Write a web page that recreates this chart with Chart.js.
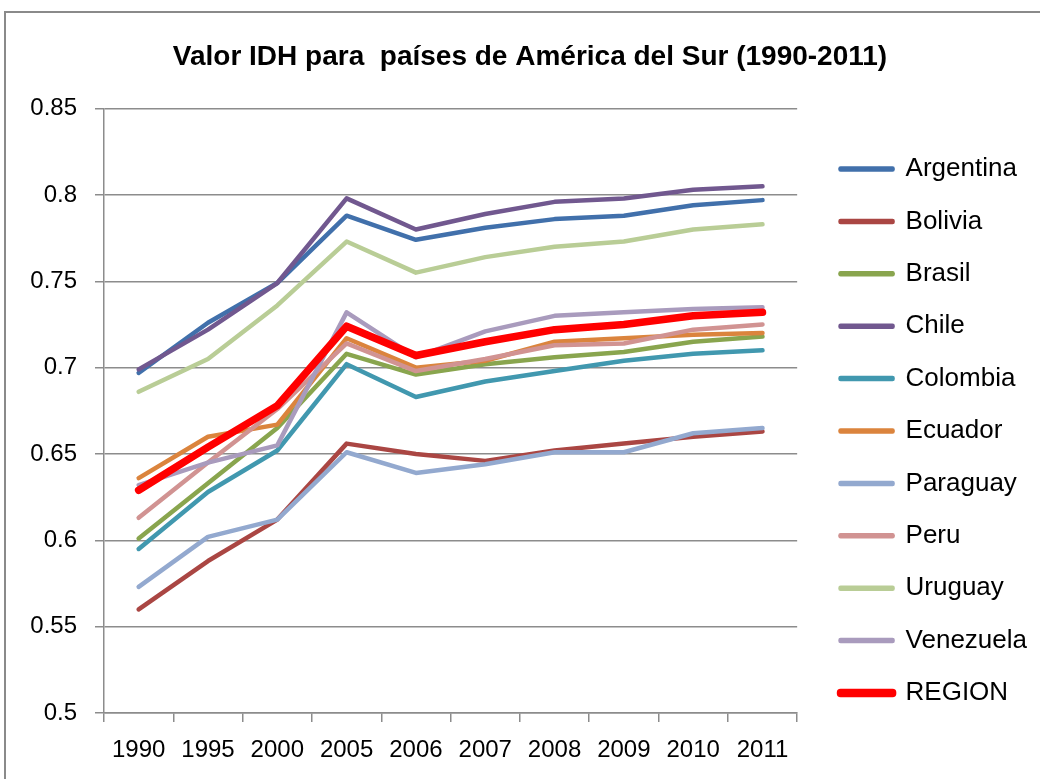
<!DOCTYPE html>
<html>
<head>
<meta charset="utf-8">
<script src="https://cdn.jsdelivr.net/npm/chart.js@4.4.1/dist/chart.umd.min.js"></script>
<style>
  html, body { margin: 0; padding: 0; background: #fff; overflow: hidden; }
  #frame { position: absolute; left: 4px; top: 11px; width: 1100px; height: 900px; border: 2px solid #8a8a8a; }
  #wrap { position: absolute; left: 0; top: 0; width: 1040px; height: 779px; }
</style>
</head>
<body>
<div id="frame"></div>
<div id="wrap"><canvas id="idh" width="1040" height="779"></canvas></div>
<script>
// years on the x axis
const years = ['1990', '1995', '2000', '2005', '2006', '2007', '2008', '2009', '2010', '2011'];

// IDH values
const argentina = [0.697, 0.726, 0.749, 0.788, 0.774, 0.781, 0.786, 0.788, 0.794, 0.797];
const bolivia   = [0.560, 0.588, 0.612, 0.656, 0.650, 0.646, 0.652, 0.656, 0.660, 0.663];
const brasil    = [0.601, 0.633, 0.665, 0.708, 0.696, 0.702, 0.706, 0.709, 0.715, 0.718];
const chile     = [0.699, 0.722, 0.749, 0.798, 0.780, 0.789, 0.796, 0.798, 0.803, 0.805];
const colombia  = [0.595, 0.628, 0.652, 0.702, 0.683, 0.692, 0.698, 0.704, 0.708, 0.710];
const ecuador   = [0.636, 0.660, 0.667, 0.717, 0.700, 0.704, 0.715, 0.717, 0.719, 0.720];
const paraguay  = [0.573, 0.602, 0.612, 0.651, 0.639, 0.644, 0.651, 0.651, 0.662, 0.665];
const peru      = [0.613, 0.645, 0.676, 0.714, 0.698, 0.705, 0.713, 0.714, 0.722, 0.725];
const uruguay   = [0.686, 0.705, 0.736, 0.773, 0.755, 0.764, 0.770, 0.773, 0.780, 0.783];
const venezuela = [0.632, 0.645, 0.655, 0.732, 0.706, 0.721, 0.730, 0.732, 0.734, 0.735];
const region    = [0.629, 0.654, 0.678, 0.724, 0.707, 0.715, 0.722, 0.725, 0.730, 0.732];

const FONT = '"Liberation Sans", Arial, sans-serif';
const GRID = '#8c8c8c';

function line(label, data, color, width) {
    return {
        label: label, data: data,
        borderColor: color, backgroundColor: color,
        borderWidth: width || 4.5,
        borderJoinStyle: 'round', borderCapStyle: 'round',
        pointRadius: 0, pointHoverRadius: 0,
        tension: 0, fill: false
    };
}

const sets = [
    line('Argentina', argentina, '#4170AB'),
    line('Bolivia', bolivia, '#AA4643'),
    line('Brasil', brasil, '#89A54E'),
    line('Chile', chile, '#71588F'),
    line('Colombia', colombia, '#4198AF'),
    line('Ecuador', ecuador, '#DB843D'),
    line('Paraguay', paraguay, '#93A9CF'),
    line('Peru', peru, '#D19392'),
    line('Uruguay', uruguay, '#B9CD96'),
    line('Venezuela', venezuela, '#A99BBD'),
    line('REGION', region, '#FF0000', 7.5)
];
// later series on top, like excel
sets.forEach((s, i) => { s.order = sets.length - i; });

const ctx = document.getElementById('idh').getContext('2d');
const chart = new Chart(ctx, {
    type: 'line',
    data: { labels: years, datasets: sets },
    options: {
        responsive: false,
        animation: false,
        layout: { padding: { left: 23, right: 3, top: 12, bottom: 0 } },
        plugins: {
            title: {
                display: true,
                text: 'Valor IDH para  países de América del Sur (1990-2011)',
                color: '#000',
                font: { family: FONT, size: 28, weight: 'bold' },
                padding: { top: 28, bottom: 35 }
            },
            legend: {
                position: 'right',
                align: 'start',
                maxWidth: 400,
                // blank title only pushes the entries down
                title: { display: true, text: ' ', font: { size: 10 }, padding: { top: 101.6, bottom: 4 } },
                labels: {
                    color: '#000',
                    font: { family: FONT, size: 26 },
                    boxWidth: 52,
                    boxHeight: 1,
                    padding: 26.4,
                    sort: (a, b) => a.datasetIndex - b.datasetIndex
                }
            },
            tooltip: { enabled: false }
        },
        scales: {
            x: {
                offset: true,
                grid: { offset: true, drawOnChartArea: false, drawTicks: true, tickLength: 9, color: GRID, lineWidth: 1.5 },
                border: { color: GRID, width: 1.5 },
                ticks: { color: '#000', font: { family: FONT, size: 24 }, padding: 14, maxRotation: 0, autoSkip: false },
                afterFit: s => { s.height = 66; }
            },
            y: {
                min: 0.5, max: 0.85,
                grid: { color: GRID, lineWidth: 1.5, tickLength: 9 },
                border: { color: GRID, width: 1.5 },
                ticks: {
                    stepSize: 0.05, color: '#000', padding: 18,
                    font: { family: FONT, size: 24 },
                    callback: v => String(Math.round(v * 100) / 100)
                },
                afterFit: s => { s.width = 81; }
            },
            // empty axis that only keeps a gap between plot and legend
            gap: {
                position: 'right', display: true,
                grid: { display: false }, border: { display: false },
                ticks: { display: false },
                afterFit: s => { s.width = 17; }
            }
        }
    }
});
</script>
</body>
</html>
